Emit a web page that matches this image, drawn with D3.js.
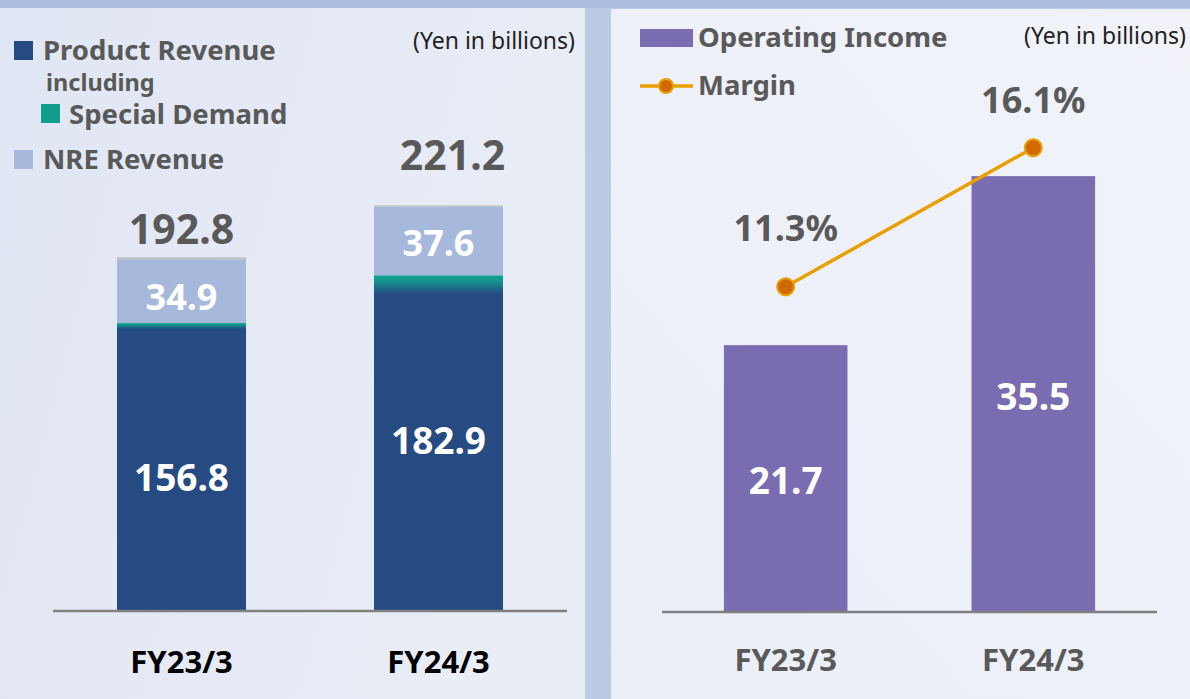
<!DOCTYPE html>
<html>
<head>
<meta charset="utf-8">
<script src="https://cdn.jsdelivr.net/npm/d3@7"></script>
<style>
  body { margin: 0; background: #e6ebf5; }
  svg { display: block; font-family: "Noto Sans", "Open Sans", sans-serif; }
</style>
</head>
<body>
<svg id="chart"></svg>
<script>
// data
const years = ["FY23/3", "FY24/3"];
const productRevenue = [156.8, 182.9];     // includes special demand
const specialDemand = [3, 10];             // estimated, part of product revenue
const nreRevenue = [34.9, 37.6];
const totalRevenue = [192.8, 221.2];
const operatingIncome = [21.7, 35.5];
const margin = [11.3, 16.1];

const width = 1190;
const height = 699;

const svg = d3.select("#chart")
    .attr("width", width)
    .attr("height", height);

const defs = svg.append("defs");

const bgLeft = defs.append("linearGradient").attr("id", "bgLeft")
    .attr("x1", 0).attr("y1", 0).attr("x2", 1).attr("y2", 0.3);
bgLeft.append("stop").attr("offset", 0).attr("stop-color", "#e0e6f3");
bgLeft.append("stop").attr("offset", 1).attr("stop-color", "#e9edf6");

const bgRight = defs.append("linearGradient").attr("id", "bgRight")
    .attr("x1", 0).attr("y1", 1).attr("x2", 1).attr("y2", 0);
bgRight.append("stop").attr("offset", 0).attr("stop-color", "#eaeef7");
bgRight.append("stop").attr("offset", 1).attr("stop-color", "#f1f3f9");

const sdGrad = defs.append("linearGradient").attr("id", "sdGrad")
    .attr("x1", 0).attr("y1", 0).attr("x2", 0).attr("y2", 1);
sdGrad.append("stop").attr("offset", 0).attr("stop-color", "#0fa08d");
sdGrad.append("stop").attr("offset", 0.25).attr("stop-color", "#129a8c");
sdGrad.append("stop").attr("offset", 1).attr("stop-color", "#264a82");

// panels
svg.append("rect").attr("width", width).attr("height", height).attr("fill", "#bccbe4");
svg.append("rect").attr("width", width).attr("height", 8).attr("fill", "#aabde0");
svg.append("rect").attr("x", 0).attr("y", 8).attr("width", 585).attr("height", height - 8)
    .attr("fill", "url(#bgLeft)");
svg.append("rect").attr("x", 611).attr("y", 9).attr("width", width - 611).attr("height", height - 9)
    .attr("fill", "url(#bgRight)");

const textGray = "#595959";

// ---------- left: revenue ----------
const baseL = 610;
const xL = d3.scaleBand().domain(years).range([53, 567]).paddingInner(0.498).paddingOuter(0.249);
const yL = d3.scaleLinear().domain([0, 250]).range([baseL, baseL - 250 * 1.83]);

const stackL = years.map((yr, i) => ({
    year: yr,
    segs: [
        { key: "prod", y0: 0, y1: productRevenue[i] - specialDemand[i], fill: "#264a82" },
        { key: "sd", y0: productRevenue[i] - specialDemand[i], y1: productRevenue[i], fill: "url(#sdGrad)" },
        { key: "nre", y0: productRevenue[i], y1: productRevenue[i] + nreRevenue[i], fill: "#a6b9dc" },
        { key: "other", y0: productRevenue[i] + nreRevenue[i], y1: totalRevenue[i], fill: "#c3c3c3" }
    ]
}));

const gBars = svg.append("g");
stackL.forEach(d => {
    gBars.selectAll(null).data(d.segs).join("rect")
        .attr("x", xL(d.year))
        .attr("width", xL.bandwidth())
        .attr("y", s => yL(s.y1))
        .attr("height", s => yL(s.y0) - yL(s.y1) + (s.key === "sd" ? 0.5 : 0))
        .attr("fill", s => s.fill);
});

svg.append("line")
    .attr("x1", 53).attr("x2", 567).attr("y1", baseL + 1).attr("y2", baseL + 1)
    .attr("stroke", "#808080").attr("stroke-width", 2.5);

const cxL = yr => xL(yr) + xL.bandwidth() / 2;

// label nudges to match the source layout
const prodShift = [11, -2];
const nreShift = [6, 2];
const totalGap = [13, 35];
const totalDx = [0, 14];

svg.append("g").selectAll("text").data(years).join("text")
    .attr("x", d => cxL(d))
    .attr("y", (d, i) => (yL(0) + yL(productRevenue[i])) / 2 + 13 + prodShift[i])
    .attr("text-anchor", "middle").attr("fill", "#fff")
    .attr("font-weight", 700).attr("font-size", 37)
    .text((d, i) => productRevenue[i].toFixed(1));

svg.append("g").selectAll("text").data(years).join("text")
    .attr("x", d => cxL(d))
    .attr("y", (d, i) => (yL(productRevenue[i]) + yL(productRevenue[i] + nreRevenue[i])) / 2 + 13 + nreShift[i])
    .attr("text-anchor", "middle").attr("fill", "#fff")
    .attr("font-weight", 700).attr("font-size", 36)
    .text((d, i) => nreRevenue[i].toFixed(1));

svg.append("g").selectAll("text").data(years).join("text")
    .attr("x", (d, i) => cxL(d) + totalDx[i])
    .attr("y", (d, i) => yL(totalRevenue[i]) - totalGap[i])
    .attr("text-anchor", "middle").attr("fill", textGray)
    .attr("font-weight", 700).attr("font-size", 41)
    .text((d, i) => totalRevenue[i].toFixed(1));

svg.append("g").selectAll("text").data(years).join("text")
    .attr("x", d => cxL(d))
    .attr("y", 673)
    .attr("text-anchor", "middle").attr("fill", "#000")
    .attr("font-weight", 700).attr("font-size", 31)
    .text(d => d);

// left legend
const legL = svg.append("g").attr("font-weight", 700).attr("fill", textGray);
legL.append("rect").attr("x", 14).attr("y", 41).attr("width", 19).attr("height", 19).attr("fill", "#264a82");
legL.append("text").attr("x", 43).attr("y", 60).attr("font-size", 27.5).text("Product Revenue");
legL.append("text").attr("x", 46).attr("y", 91).attr("font-size", 23.5).text("including");
legL.append("rect").attr("x", 41).attr("y", 104).attr("width", 19).attr("height", 19).attr("fill", "#0f9e8c");
legL.append("text").attr("x", 69).attr("y", 124).attr("font-size", 27.5).text("Special Demand");
legL.append("rect").attr("x", 14).attr("y", 150).attr("width", 19).attr("height", 19).attr("fill", "#a6b9dc");
legL.append("text").attr("x", 43).attr("y", 169).attr("font-size", 27.5).text("NRE Revenue");

svg.append("text").attr("x", 575).attr("y", 49).attr("text-anchor", "end")
    .attr("font-size", 23).attr("fill", "#222").text("(Yen in billions)");

// ---------- right: operating income ----------
const baseR = 611;
const xR = d3.scaleBand().domain(years).range([662, 1157]).paddingInner(0.501).paddingOuter(0.25);
const yR = d3.scaleLinear().domain([0, 40]).range([baseR, baseR - 40 * 12.25]);
const yM = d3.scaleLinear().domain([0, 20]).range([614, 614 - 20 * 28.96]);
const cxR = yr => xR(yr) + xR.bandwidth() / 2;

svg.append("g").selectAll("rect").data(years).join("rect")
    .attr("x", d => xR(d))
    .attr("width", xR.bandwidth())
    .attr("y", (d, i) => yR(operatingIncome[i]))
    .attr("height", (d, i) => yR(0) - yR(operatingIncome[i]))
    .attr("fill", "#7a6cb0");

svg.append("line")
    .attr("x1", 662).attr("x2", 1157).attr("y1", baseR + 1).attr("y2", baseR + 1)
    .attr("stroke", "#808080").attr("stroke-width", 2.5);

svg.append("g").selectAll("text").data(years).join("text")
    .attr("x", d => cxR(d))
    .attr("y", (d, i) => (yR(0) + yR(operatingIncome[i])) / 2 + 16)
    .attr("text-anchor", "middle").attr("fill", "#fff")
    .attr("font-weight", 700).attr("font-size", 37)
    .text((d, i) => operatingIncome[i].toFixed(1));

const line = d3.line()
    .x((d, i) => cxR(years[i]))
    .y(d => yM(d));

svg.append("path")
    .attr("d", line(margin))
    .attr("fill", "none").attr("stroke", "#e8a000").attr("stroke-width", 3.5);

svg.append("g").selectAll("circle").data(margin).join("circle")
    .attr("cx", (d, i) => cxR(years[i]))
    .attr("cy", d => yM(d))
    .attr("r", 8.5)
    .attr("fill", "#d06a00").attr("stroke", "#e8a000").attr("stroke-width", 2);

const marginGap = [46, 35];
svg.append("g").selectAll("text").data(margin).join("text")
    .attr("x", (d, i) => cxR(years[i]))
    .attr("y", (d, i) => yM(d) - marginGap[i])
    .attr("text-anchor", "middle").attr("fill", textGray)
    .attr("font-weight", 700).attr("font-size", 36)
    .text(d => d.toFixed(1) + "%");

svg.append("g").selectAll("text").data(years).join("text")
    .attr("x", d => cxR(d))
    .attr("y", 671)
    .attr("text-anchor", "middle").attr("fill", textGray)
    .attr("font-weight", 700).attr("font-size", 31)
    .text(d => d);

// right legend
const legR = svg.append("g").attr("font-weight", 700).attr("fill", textGray);
legR.append("rect").attr("x", 640).attr("y", 29).attr("width", 53).attr("height", 18).attr("fill", "#7a6cb0");
legR.append("text").attr("x", 698).attr("y", 47).attr("font-size", 27.5).text("Operating Income");
legR.append("line").attr("x1", 640).attr("x2", 693).attr("y1", 86).attr("y2", 86)
    .attr("stroke", "#e8a000").attr("stroke-width", 3.5);
legR.append("circle").attr("cx", 666).attr("cy", 86).attr("r", 7)
    .attr("fill", "#d06a00").attr("stroke", "#e8a000").attr("stroke-width", 2);
legR.append("text").attr("x", 698).attr("y", 95).attr("font-size", 27.5).text("Margin");

svg.append("text").attr("x", 1186).attr("y", 44).attr("text-anchor", "end")
    .attr("font-size", 23).attr("fill", "#222").text("(Yen in billions)");
</script>
</body>
</html>
